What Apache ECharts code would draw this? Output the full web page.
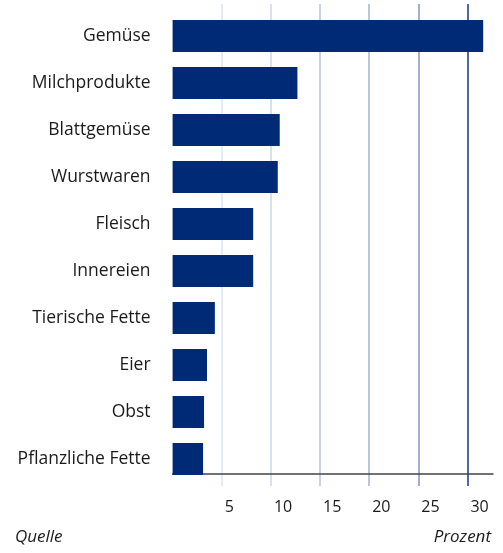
<!DOCTYPE html>
<html>
<head>
<meta charset="utf-8">
<style>
  html, body { margin: 0; padding: 0; background: #ffffff; }
  #chart { width: 503px; height: 553px; }
</style>
<script src="https://cdn.jsdelivr.net/npm/echarts@6/dist/echarts.min.js"></script>
</head>
<body>
<div id="chart"></div>
<script>
// Food groups, top to bottom
const categories = ['Gemüse', 'Milchprodukte', 'Blattgemüse', 'Wurstwaren', 'Fleisch',
  'Innereien', 'Tierische Fette', 'Eier', 'Obst', 'Pflanzliche Fette'];
// Share in percent
const values = [31.6, 12.7, 10.9, 10.7, 8.2, 8.2, 4.3, 3.5, 3.2, 3.1];
// Tick labels on the percent axis
const tickValues = [5, 10, 15, 20, 25, 30];

const AXIS_MAX = 32.6;
const FONT = '"Open Sans", sans-serif';
const BAR_COLOR = '#002a75';
// Grid lines get darker from left to right (transparent at 0 and at the axis end)
const gridColors = ['rgba(0,0,0,0)', '#dde3ef', '#cdd6e8', '#b6c2dc', '#a3b1d2', '#8394c2', '#1b3680', 'rgba(0,0,0,0)'];

const chart = echarts.init(document.getElementById('chart'), null, { renderer: 'canvas' });

chart.setOption({
  animation: false,
  backgroundColor: '#ffffff',
  grid: [
    { left: 172.6, right: 10, top: 4, height: 482 },
    { left: 172.6, right: 10, top: 12.5, height: 470 }
  ],
  xAxis: [
    {
      gridIndex: 0, type: 'value', min: 0, max: AXIS_MAX, interval: 5,
      axisLine: { show: false }, axisTick: { show: false },
      splitLine: { show: true, lineStyle: { color: gridColors, width: 1.5 } },
      axisLabel: {
        show: true, margin: 13, color: '#1a1a1a', fontFamily: FONT, fontSize: 16,
        align: 'left', padding: [0, 0, 0, 3],
        showMinLabel: false, showMaxLabel: false,
        formatter: v => (tickValues.indexOf(v) >= 0 ? String(v) : '')
      }
    },
    {
      gridIndex: 1, type: 'value', min: 0, max: AXIS_MAX, interval: 5, offset: -8.5,
      axisLine: { show: true, onZero: false, lineStyle: { color: '#444444', width: 1.5 } },
      axisTick: { show: false }, axisLabel: { show: false }, splitLine: { show: false }
    }
  ],
  yAxis: [
    { gridIndex: 0, type: 'value', show: false, min: 0, max: 1 },
    {
      gridIndex: 1, type: 'category', data: categories, inverse: true,
      axisLine: { show: false }, axisTick: { show: false },
      axisLabel: { margin: 22, color: '#1a1a1a', fontFamily: FONT, fontSize: 17.5 }
    }
  ],
  series: [
    {
      type: 'bar', xAxisIndex: 1, yAxisIndex: 1, data: values,
      barWidth: 32, itemStyle: { color: BAR_COLOR }, z: 5, silent: true
    }
  ],
  graphic: [
    {
      type: 'text', left: 15, top: 529,
      style: { text: 'Quelle', font: 'italic 17px ' + FONT, fill: '#1a1a1a' }
    },
    {
      type: 'text', right: 12, top: 529,
      style: { text: 'Prozent', font: 'italic 17px ' + FONT, fill: '#1a1a1a' }
    }
  ]
});
</script>
</body>
</html>
